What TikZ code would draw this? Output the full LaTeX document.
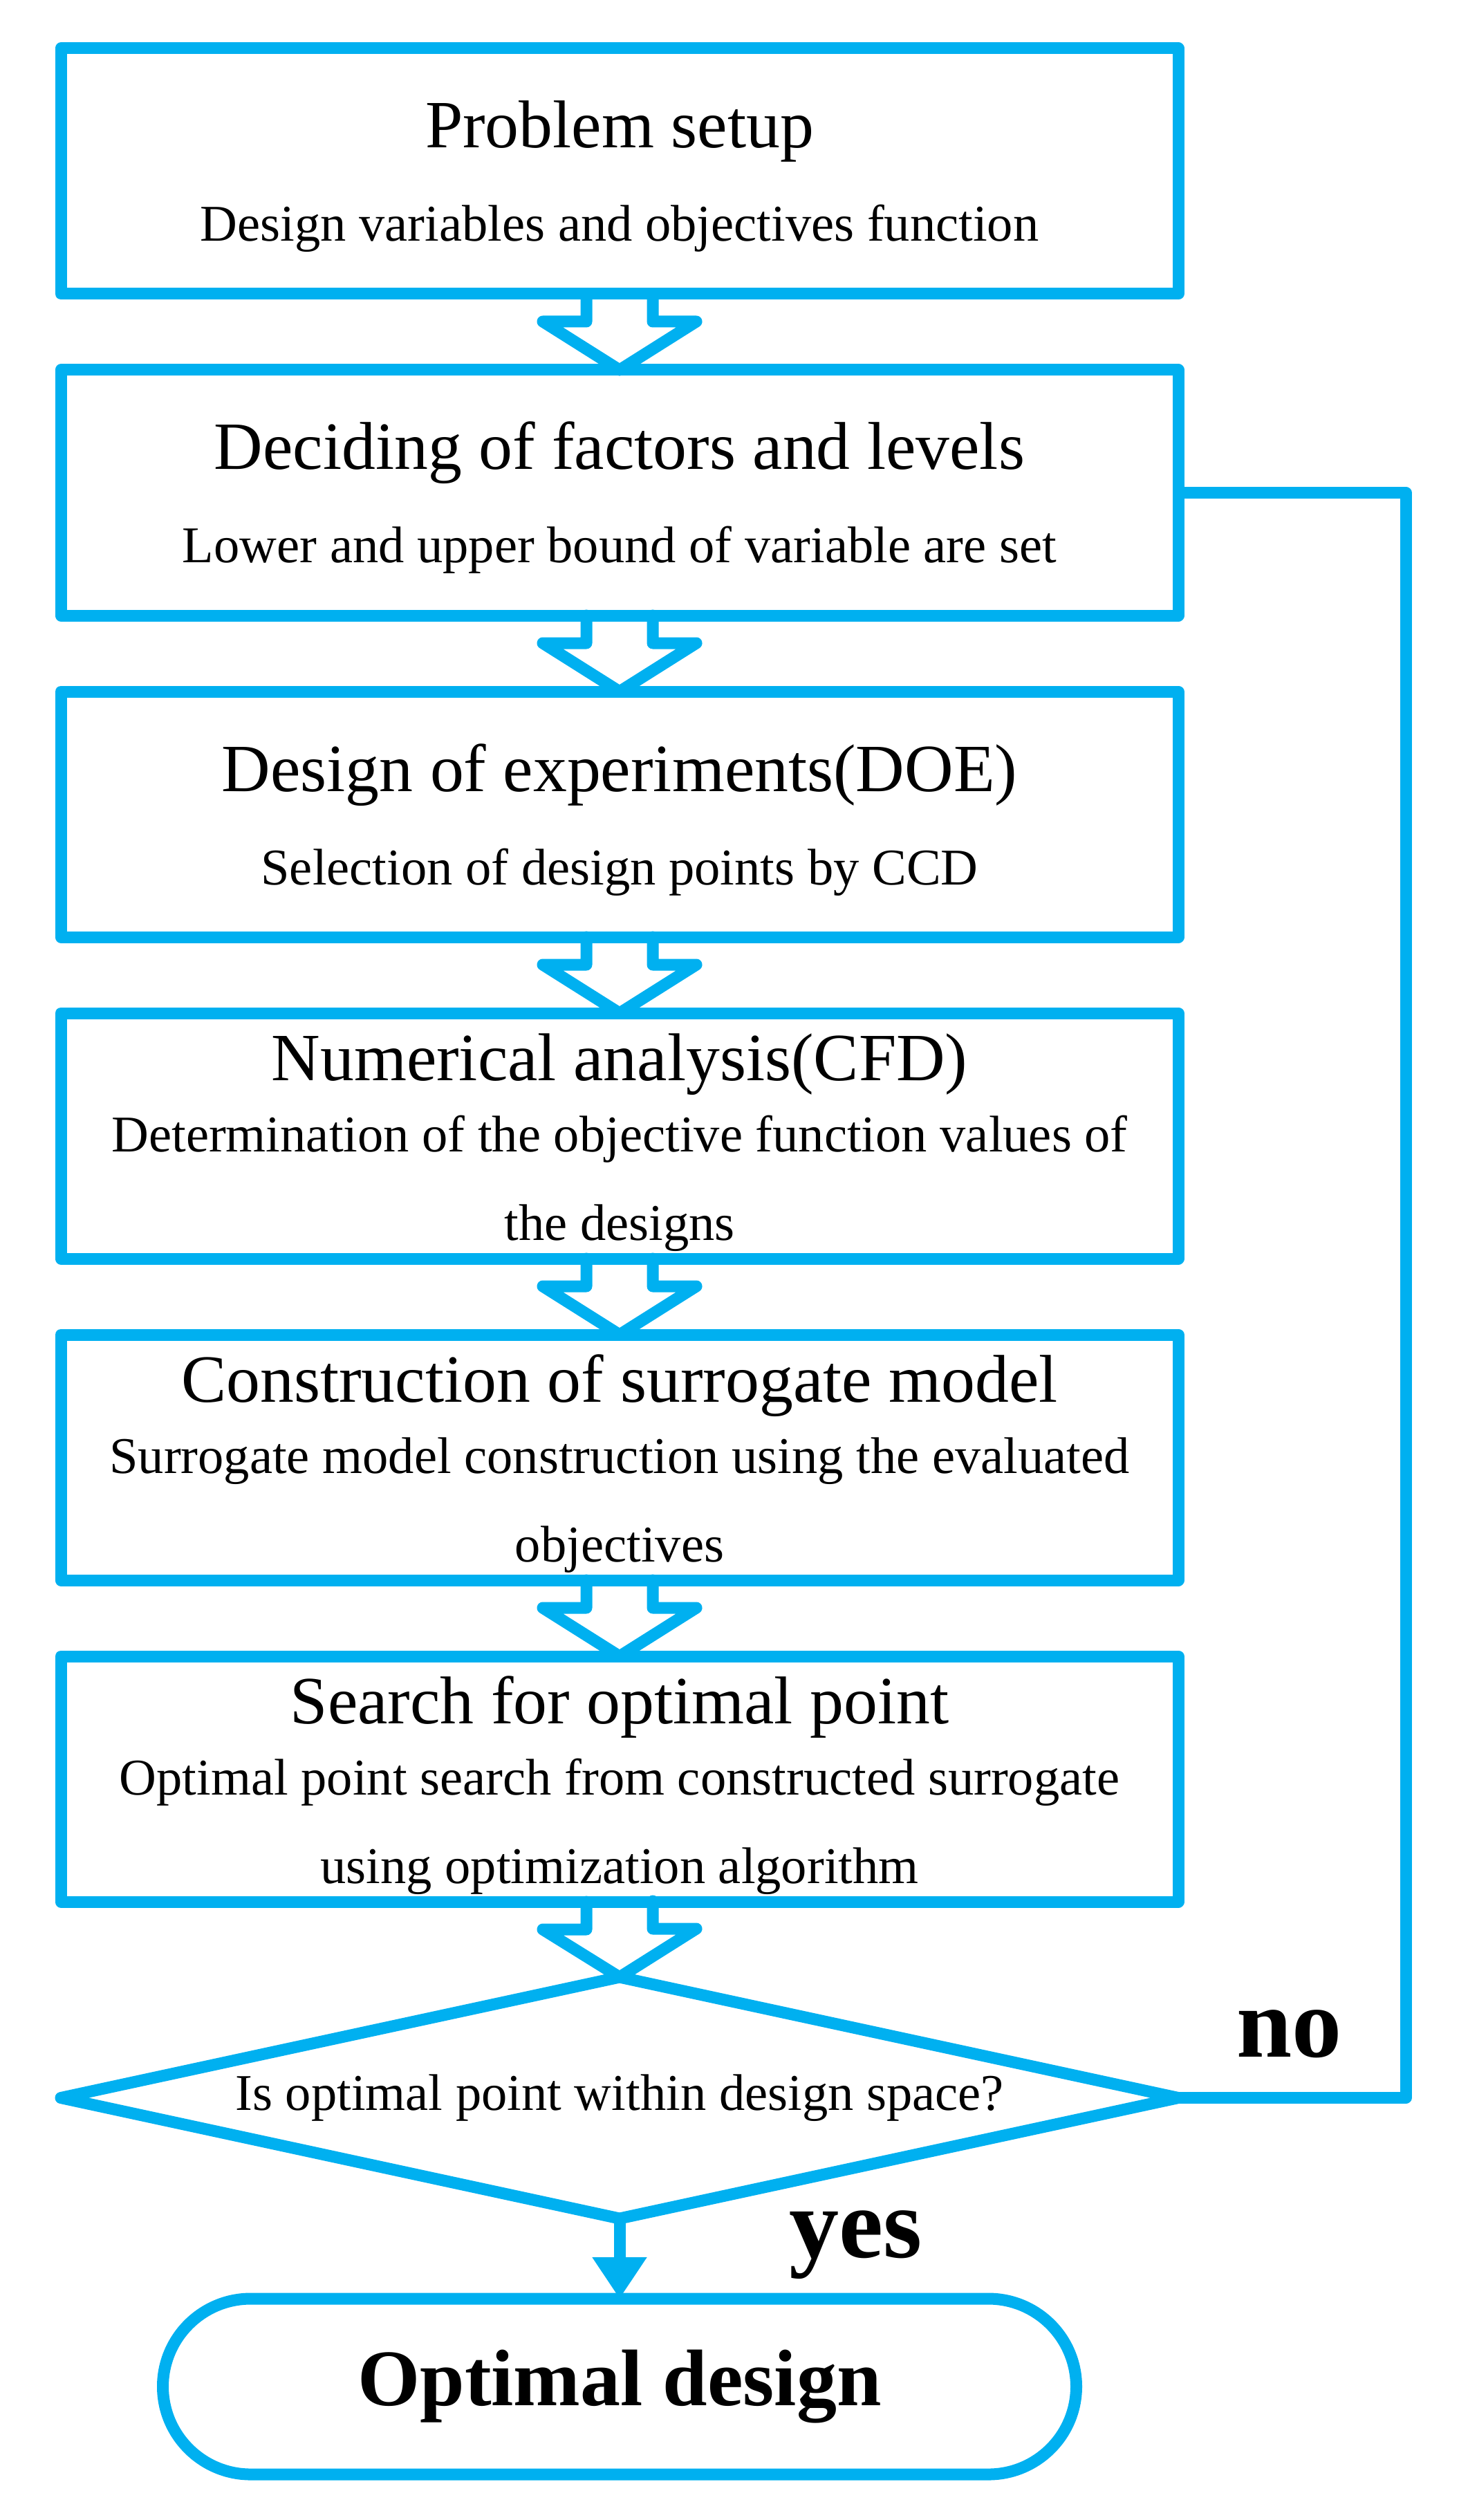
\documentclass[tikz,border=0pt]{standalone}
\usepackage{fontspec}
\setmainfont{Liberation Serif}
\usepackage{tikz}
\usetikzlibrary{shapes.geometric, arrows.meta, positioning, calc}
\definecolor{flowblue}{RGB}{0,176,240}

\begin{document}
\begin{tikzpicture}[
        node distance=1.1cm,
        box/.style={rectangle, draw=flowblue, line width=0.17cm, line join=round, minimum width=16.16cm, minimum height=3.55cm, inner sep=0pt, outer sep=0pt},
        decision/.style={diamond, draw=flowblue, line width=0.17cm, line join=round, aspect=4.63, minimum width=16.16cm, minimum height=3.49cm, inner sep=0pt, outer sep=0pt, font=\fontsize{21.2}{25}\selectfont},
        terminal/.style={rectangle, rounded corners=1.27cm, draw=flowblue, line width=0.17cm, minimum width=13.21cm, minimum height=2.54cm, outer sep=0pt, font=\bfseries\fontsize{33}{40}\selectfont},
        head/.style={anchor=base, font=\fontsize{27.8}{32}\selectfont},
        sub/.style={anchor=base, font=\fontsize{21.2}{25}\selectfont},
        answer/.style={anchor=base west, font=\bfseries\fontsize{41}{48}\selectfont},
        fat/.style={draw=flowblue, line width=0.17cm, line join=round, line cap=round},
        link/.style={draw=flowblue, line width=0.17cm, -{Triangle[width=0.75cm, length=0.6cm]}}
    ]
    \useasboundingbox (0,0) rectangle (21.09,-36.44);

    % Boxes
    \node[box] (b1) at (8.96,-2.475) {};
    \node[box, below=of b1] (b2) {};
    \node[box, below=of b2] (b3) {};
    \node[box, below=of b3] (b4) {};
    \node[box, below=of b4] (b5) {};
    \node[box, below=of b5] (b6) {};

    % Decision and end
    \node[decision, below=1.09cm of b6] (dec) {Is optimal point within design space?};
    \node[terminal, below=1.16cm of dec] (end) {Optimal design};

    % Box texts
    \node[head] (t1) at ($(b1.north)+(0,-1.44)$) {Problem setup};
    \node[sub] (s1) at ($(b1.north)+(0,-2.79)$) {Design variables and objectives function};
    \node[head] (t2) at ($(b2.north)+(0,-1.44)$) {Deciding of factors and levels};
    \node[sub] (s2) at ($(b2.north)+(0,-2.79)$) {Lower and upper bound of variable are set};
    \node[head] (t3) at ($(b3.north)+(0,-1.44)$) {Design of experiments(DOE)};
    \node[sub] (s3) at ($(b3.north)+(0,-2.79)$) {Selection of design points by CCD};
    \node[head] (t4) at ($(b4.north)+(0,-0.97)$) {Numerical analysis(CFD)};
    \node[sub] (s4) at ($(b4.north)+(0,-2.0)$) {Determination of the objective function values of};
    \node[sub] (u4) at ($(b4.north)+(0,-3.28)$) {the designs};
    \node[head] (t5) at ($(b5.north)+(0,-0.97)$) {Construction of surrogate model};
    \node[sub] (s5) at ($(b5.north)+(0,-2.0)$) {Surrogate model construction using the evaluated};
    \node[sub] (u5) at ($(b5.north)+(0,-3.28)$) {objectives};
    \node[head] (t6) at ($(b6.north)+(0,-0.97)$) {Search for optimal point};
    \node[sub] (s6) at ($(b6.north)+(0,-2.0)$) {Optimal point search from constructed surrogate};
    \node[sub] (u6) at ($(b6.north)+(0,-3.28)$) {using optimization algorithm};

    % Block arrows
    \foreach \a/\b in {b1/b2, b2/b3, b3/b4, b4/b5, b5/b6, b6/dec}
        \draw[fat] ($(\a.south)+(-0.48,0)$) -- ++(0,-0.4) -- ++(-0.63,0) -- (\b.north) -- ++(1.11,0.7) -- ++(-0.63,0) -- ++(0,0.4);

    % Answers
    \draw[fat, line cap=butt] (dec.east) -- ++(3.29,0) |- (b2.east);
    \draw[link] (dec.south) -- (end.north);
    \node[answer] (no) at ($(dec.east)+(0.72,0.59)$) {no};
    \node[answer] (yes) at ($(dec.south)+(2.33,-0.56)$) {yes};

\end{tikzpicture}
\end{document}
